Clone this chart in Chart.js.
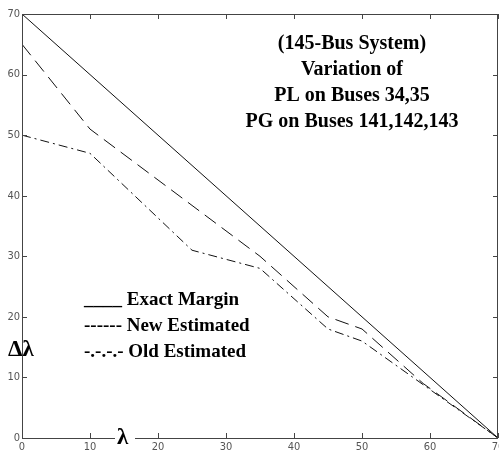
<!DOCTYPE html>
<html>
<head>
<meta charset="utf-8">
<script src="https://cdn.jsdelivr.net/npm/chart.js@4.4.1/dist/chart.umd.min.js"></script>
<style>
  html, body { margin: 0; padding: 0; background: #fff; }
  #wrap { width: 499px; height: 453px; position: relative; }
</style>
</head>
<body>
<div id="wrap"><canvas id="chart"></canvas></div>
<script>
// data
const xTicks = [0, 10, 20, 30, 40, 50, 60, 70];
const yTicks = [0, 10, 20, 30, 40, 50, 60, 70];

const exactX = [0, 70];
const exactY = [70, 0];

const newX = [0, 10, 35, 45, 50, 59, 70];
const newY = [65, 51, 30, 20, 18, 9, 0];

const oldX = [0, 10, 25, 35, 45, 50, 60, 70];
const oldY = [50, 47, 31, 28, 18, 16, 8, 0];

const titleLines = ['(145-Bus System)', 'Variation of', 'PL on Buses 34,35', 'PG on Buses 141,142,143'];
const legendLines = ['____ Exact Margin', '------ New Estimated', '-.-.-.- Old Estimated'];

const toPts = (xs, ys) => xs.map((x, i) => ({ x: x, y: ys[i] }));
const tickFont = '"Liberation Sans Narrow", "Arial Narrow", "DejaVu Sans Condensed", sans-serif';

// box, inward ticks and annotations
const decor = {
    id: 'decor',
    afterDraw(chart) {
        const ctx = chart.ctx;
        const a = chart.chartArea;
        const xs = chart.scales.x, ys = chart.scales.y;
        ctx.save();
        ctx.strokeStyle = '#444';
        ctx.lineWidth = 1;
        ctx.strokeRect(a.left + 0.5, a.top + 0.5, a.right - a.left - 1, a.bottom - a.top);
        ctx.beginPath();
        xTicks.forEach(v => {
            const px = Math.round(xs.getPixelForValue(v)) + 0.5;
            ctx.moveTo(px, a.bottom); ctx.lineTo(px, a.bottom - 5);
            ctx.moveTo(px, a.top); ctx.lineTo(px, a.top + 5);
        });
        yTicks.forEach(v => {
            const py = Math.round(ys.getPixelForValue(v)) + 0.5;
            ctx.moveTo(a.left, py); ctx.lineTo(a.left + 5, py);
            ctx.moveTo(a.right, py); ctx.lineTo(a.right - 5, py);
        });
        ctx.stroke();

        // title block
        ctx.fillStyle = '#000';
        ctx.font = 'bold 20px "Liberation Serif", "Times New Roman", serif';
        ctx.textAlign = 'center';
        ctx.textBaseline = 'middle';
        titleLines.forEach((t, i) => ctx.fillText(t, 352, 44 + i * 26));

        // hand-written legend
        ctx.font = 'bold 19px "Liberation Serif", "Times New Roman", serif';
        ctx.textAlign = 'left';
        legendLines.forEach((t, i) => ctx.fillText(t, 84, 300 + i * 26));

        // axis symbols
        ctx.font = 'bold 23px "Liberation Serif", "Times New Roman", serif';
        ctx.fillText('\u0394\u03bb', 8, 350);
        ctx.fillStyle = '#fff';
        ctx.fillRect(115, 430, 20, 16);
        ctx.fillStyle = '#000';
        ctx.fillText('\u03bb', 117, 438);
        ctx.restore();
    }
};

const line = (data, dash) => ({
    data: data,
    showLine: true,
    borderColor: '#111',
    borderWidth: 1,
    borderDash: dash,
    pointRadius: 0,
    fill: false,
    tension: 0
});

new Chart(document.getElementById('chart'), {
    type: 'scatter',
    data: {
        datasets: [
            line(toPts(exactX, exactY), []),
            line(toPts(newX, newY), [14, 7]),
            line(toPts(oldX, oldY), [9, 4, 2, 4])
        ]
    },
    options: {
        responsive: true,
        maintainAspectRatio: false,
        animation: false,
        layout: { autoPadding: false, padding: { top: 14, right: 1, left: 0, bottom: 0 } },
        plugins: { legend: { display: false }, tooltip: { enabled: false } },
        scales: {
            x: {
                type: 'linear', min: 0, max: 70,
                afterBuildTicks: s => { s.ticks = xTicks.map(v => ({ value: v })); },
                afterFit: s => { s.height = 15; s.paddingLeft = 0; s.paddingRight = 0; },
                grid: { display: false, drawTicks: false },
                border: { display: false },
                ticks: { color: '#555', padding: 3, maxRotation: 0, font: { family: tickFont, size: 11 } }
            },
            y: {
                type: 'linear', min: 0, max: 70,
                afterBuildTicks: s => { s.ticks = yTicks.map(v => ({ value: v })); },
                afterFit: s => { s.width = 22; s.paddingTop = 0; s.paddingBottom = 0; },
                grid: { display: false, drawTicks: false },
                border: { display: false },
                ticks: { color: '#555', padding: 2, font: { family: tickFont, size: 11 } }
            }
        }
    },
    plugins: [decor]
});
</script>
</body>
</html>
